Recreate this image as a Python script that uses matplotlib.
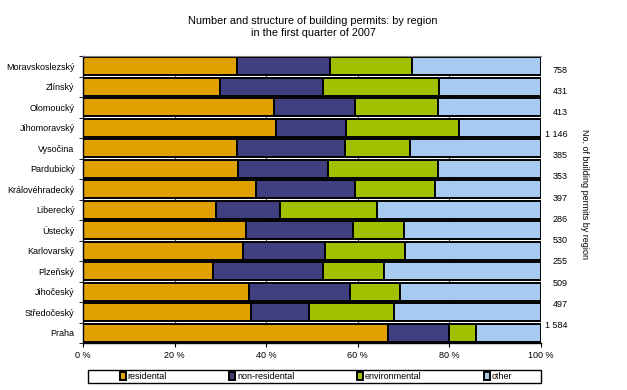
import numpy as np
import matplotlib
matplotlib.use("Agg")
import matplotlib.pyplot as plt
from matplotlib.patches import Rectangle

plt.rcParams['font.family'] = ['Liberation Sans', 'DejaVu Sans']
plt.rcParams['font.size'] = 6.5

regions = ["Moravskoslezský", "Zlínský", "Olomoucký", "Jihomoravský", "Vysočina",
           "Pardubický", "Královéhradecký", "Liberecký", "Ústecký", "Karlovarský",
           "Plzeňský", "Jihočeský", "Středočeský", "Praha"]

# cumulative shares (%), converted to segment sizes below
residential = [33.6, 30.0, 41.6, 42.2, 33.6, 33.9, 37.8, 29.1, 35.6, 35.0, 28.4, 36.2, 36.7, 66.6]
nonres_end = [54.0, 52.5, 59.3, 57.5, 57.1, 53.6, 59.3, 43.1, 59.0, 52.9, 52.5, 58.4, 49.4, 80.0]
env_end = [71.9, 77.7, 77.5, 82.2, 71.5, 77.6, 76.9, 64.1, 70.0, 70.2, 65.8, 69.3, 67.8, 85.7]

counts = ["758", "431", "413", "1 146", "385", "353", "397", "286", "530", "255",
          "509", "497", "1 584"]

series_names = ["residental", "non-residental", "environmental", "other"]
colors = ["#E0A000", "#404080", "#A0C000", "#A6CAF0"]

res = np.array(residential)
nonres = np.array(nonres_end) - res
env = np.array(env_end) - np.array(nonres_end)
other = 100 - np.array(env_end)
segments = [res, nonres, env, other]

fig = plt.figure(figsize=(6.27, 3.9), dpi=100)
ax = fig.add_axes([83 / 627, 1 - 343 / 390, 458 / 627, 287 / 390])

y = np.arange(len(regions))
left = np.zeros(len(regions))
handles = []
for seg, name, c in zip(segments, series_names, colors):
    h = ax.barh(y, seg, left=left, height=0.9, color=c, edgecolor="black",
                linewidth=1.4, label=name, zorder=2)
    handles.append(h)
    left += seg

ax.set_xlim(0, 100)
ax.set_ylim(len(regions) - 0.5, -0.5)
ax.set_xticks(np.arange(0, 101, 20))
ax.set_xticklabels([f"{v} %" for v in range(0, 101, 20)])
ax.set_yticks(y)
ax.set_yticklabels(regions)
ax.set_yticks(np.arange(-0.5, len(regions), 1), minor=True)
ax.tick_params(axis="y", which="major", length=0, pad=6)
ax.tick_params(axis="y", which="minor", length=3, color="black")
ax.tick_params(axis="x", length=3, pad=3)
ax.xaxis.grid(True, color="#404040", linewidth=0.8, zorder=0)
ax.set_axisbelow(True)
ax.spines["top"].set_color("#808080")
ax.spines["right"].set_visible(False)
ax.spines["left"].set_linewidth(1.0)
ax.spines["bottom"].set_linewidth(1.0)

# secondary axis with permit counts
ax2 = ax.twinx()
ax2.set_ylim(12.85, -0.62)
ax2.set_yticks(np.arange(len(counts)))
ax2.set_yticklabels(counts)
ax2.tick_params(axis="y", length=0, pad=19)
for lbl in ax2.get_yticklabels():
    lbl.set_horizontalalignment("right")
for s in ax2.spines.values():
    s.set_visible(False)
ax2.set_ylabel("No. of building permits by region", rotation=-90, fontsize=6.5)
ax2.yaxis.set_label_coords(1.105, 0.52)

fig.text(313 / 627, 1 - 27.5 / 390,
         "Number and structure of building permits: by region\nin the first quarter of 2007",
         ha="center", va="center", fontsize=7.8, linespacing=1.25)

# legend box
fig.patches.append(Rectangle((88 / 627, 1 - 383 / 390), 453 / 627, 13 / 390,
                             transform=fig.transFigure, fill=False,
                             edgecolor="black", linewidth=1.0))
fig.legend(handles, series_names, loc="center", ncol=4, frameon=False,
           bbox_to_anchor=(316 / 627, 1 - 376.5 / 390), handlelength=0.7,
           handleheight=0.9, handletextpad=0.2, columnspacing=6.9, fontsize=6.5,
           borderpad=0)

fig.savefig("out.png", dpi=100)
